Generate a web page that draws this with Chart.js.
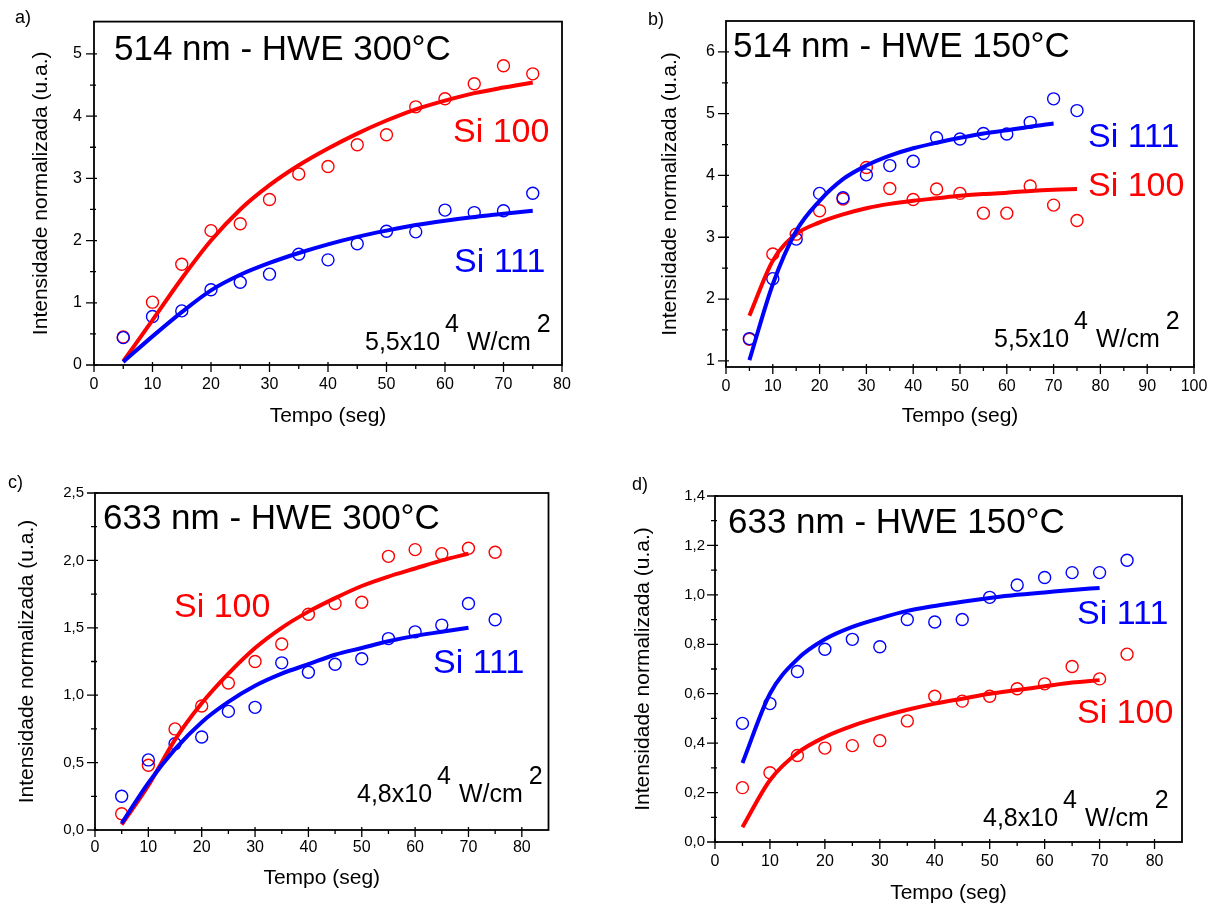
<!DOCTYPE html>
<html>
<head>
<meta charset="utf-8">
<script src="https://cdn.jsdelivr.net/npm/chart.js@4.4.1/dist/chart.umd.min.js"></script>
<style>
  body { margin: 0; background: #fff; width: 1218px; height: 906px; position: relative; overflow: hidden; }
  canvas { position: absolute; }
</style>
</head>
<body>
<canvas id="painelA" width="610" height="450" style="left:0;top:0"></canvas>
<canvas id="painelB" width="608" height="450" style="left:610px;top:0"></canvas>
<canvas id="painelC" width="610" height="456" style="left:0;top:450px"></canvas>
<canvas id="painelD" width="608" height="456" style="left:610px;top:450px"></canvas>
<script>
// tempos de medida (s)
const tempo = [5, 10, 15, 20, 25, 30, 35, 40, 45, 50, 55, 60, 65, 70, 75];
const tempoAjuste70 = [5, 10, 15, 20, 25, 30, 35, 40, 45, 50, 55, 60, 65, 70];

// a) 514 nm - HWE 300°C
const aSi100 = [0.45, 1.01, 1.62, 2.16, 2.27, 2.66, 3.07, 3.19, 3.54, 3.70, 4.15, 4.28, 4.52, 4.81, 4.68];
const aSi111 = [0.44, 0.78, 0.87, 1.21, 1.33, 1.46, 1.78, 1.69, 1.95, 2.15, 2.14, 2.49, 2.45, 2.48, 2.76];
const aAjuste100 = [0.06, 0.72, 1.39, 2.00, 2.50, 2.89, 3.21, 3.48, 3.72, 3.93, 4.11, 4.25, 4.37, 4.46, 4.54];
const aAjuste111 = [0.05, 0.46, 0.85, 1.20, 1.45, 1.64, 1.80, 1.94, 2.06, 2.16, 2.25, 2.32, 2.38, 2.43, 2.48];

// b) 514 nm - HWE 150°C
const bSi100 = [1.35, 2.73, 3.05, 3.43, 3.62, 4.13, 3.79, 3.61, 3.78, 3.71, 3.39, 3.39, 3.83, 3.52, 3.27];
const bSi111 = [1.36, 2.33, 2.97, 3.71, 3.64, 4.01, 4.16, 4.23, 4.61, 4.59, 4.68, 4.67, 4.86, 5.24, 5.05];
const bAjuste100 = [1.73, 2.62, 3.05, 3.24, 3.37, 3.47, 3.54, 3.59, 3.63, 3.67, 3.70, 3.72, 3.75, 3.77, 3.78];
const bAjuste111 = [1.01, 2.24, 3.10, 3.59, 3.94, 4.16, 4.32, 4.44, 4.53, 4.61, 4.68, 4.73, 4.79, 4.84];

// c) 633 nm - HWE 300°C
const cSi100 = [0.12, 0.48, 0.75, 0.92, 1.09, 1.25, 1.38, 1.60, 1.68, 1.69, 2.03, 2.08, 2.05, 2.09, 2.06];
const cSi111 = [0.25, 0.52, 0.64, 0.69, 0.88, 0.91, 1.24, 1.17, 1.23, 1.27, 1.42, 1.47, 1.52, 1.68, 1.56];
const cAjuste100 = [0.04, 0.33, 0.67, 0.94, 1.16, 1.35, 1.50, 1.62, 1.72, 1.81, 1.88, 1.94, 2.00, 2.05];
const cAjuste111 = [0.05, 0.35, 0.60, 0.80, 0.95, 1.07, 1.16, 1.23, 1.30, 1.35, 1.40, 1.44, 1.47, 1.50];

// d) 633 nm - HWE 150°C
const dSi100 = [0.22, 0.28, 0.35, 0.38, 0.39, 0.41, 0.49, 0.59, 0.57, 0.59, 0.62, 0.64, 0.71, 0.66, 0.76];
const dSi111 = [0.48, 0.56, 0.69, 0.78, 0.82, 0.79, 0.90, 0.89, 0.90, 0.99, 1.04, 1.07, 1.09, 1.09, 1.14];
const dAjuste100 = [0.06, 0.25, 0.36, 0.425, 0.47, 0.505, 0.535, 0.56, 0.58, 0.60, 0.615, 0.63, 0.645, 0.655];
const dAjuste111 = [0.32, 0.60, 0.74, 0.82, 0.87, 0.905, 0.935, 0.955, 0.972, 0.987, 1.0, 1.01, 1.02, 1.028];

// marcas dos eixos
const ticksX80 = [0, 10, 20, 30, 40, 50, 60, 70, 80];
const ticksX100 = [0, 10, 20, 30, 40, 50, 60, 70, 80, 90, 100];
const ticksYa = [0, 1, 2, 3, 4, 5];
const ticksYb = [1, 2, 3, 4, 5, 6];
const ticksYc = [0, 0.5, 1, 1.5, 2, 2.5];
const ticksYd = [0, 0.2, 0.4, 0.6, 0.8, 1.0, 1.2, 1.4];

const VERMELHO = '#ff0000';
const AZUL = '#0000ff';
const FONTE = '"Liberation Sans", Arial, sans-serif';

const virgula = v => v.toFixed(1).replace('.', ',');

// moldura e tracinhos (maiores e menores) dos eixos
const molduraPlugin = {
  id: 'moldura',
  afterDraw(chart) {
    const { ctx, chartArea: a, scales: { x, y } } = chart;
    ctx.save();
    ctx.strokeStyle = '#000';
    ctx.lineWidth = 1.8;
    ctx.strokeRect(a.left, a.top, a.right - a.left, a.bottom - a.top);
    ctx.lineWidth = 1.3;
    ctx.beginPath();
    const xs = x.ticks.map(t => t.value);
    xs.forEach((v, i) => {
      const px = x.getPixelForValue(v);
      ctx.moveTo(px, a.bottom - 3); ctx.lineTo(px, a.bottom + 7);
      if (i < xs.length - 1) {
        const pm = x.getPixelForValue((v + xs[i + 1]) / 2);
        ctx.moveTo(pm, a.bottom); ctx.lineTo(pm, a.bottom + 4);
      }
    });
    const ys = y.ticks.map(t => t.value);
    ys.forEach((v, i) => {
      const py = y.getPixelForValue(v);
      ctx.moveTo(a.left - 8, py); ctx.lineTo(a.left + 3, py);
      if (i < ys.length - 1) {
        const pm = y.getPixelForValue((v + ys[i + 1]) / 2);
        ctx.moveTo(a.left - 4, pm); ctx.lineTo(a.left + 2, pm);
      }
    });
    ctx.stroke();
    ctx.restore();
  }
};

// letra do painel, título, nomes das séries e densidade de potência
const textosPlugin = {
  id: 'textos',
  afterDraw(chart, args, o) {
    const ctx = chart.ctx;
    ctx.save();
    ctx.textBaseline = 'alphabetic';
    ctx.textAlign = 'left';
    ctx.fillStyle = '#000';
    ctx.font = '18px ' + FONTE;
    ctx.fillText(o.letra[0], o.letra[1], o.letra[2]);
    ctx.font = '35px ' + FONTE;
    ctx.fillText(o.titulo[0], o.titulo[1], o.titulo[2]);
    ctx.font = '34px ' + FONTE;
    o.series.forEach(s => {
      ctx.fillStyle = s[3];
      ctx.fillText(s[0], s[1], s[2]);
    });
    // 5,5x10^4 W/cm^2
    const p = o.potencia;
    ctx.fillStyle = '#000';
    ctx.font = '25px ' + FONTE;
    let px = p[1];
    ctx.fillText(p[0], px, p[2]);
    px += ctx.measureText(p[0]).width + 5;
    ctx.fillText('4', px, p[2] - 18);
    px += ctx.measureText('4').width + 8;
    ctx.fillText('W/cm', px, p[2]);
    px += ctx.measureText('W/cm').width + 6;
    ctx.fillText('2', px, p[2] - 18);
    ctx.restore();
  }
};

function circulos(label, xs, ys, cor, ordem) {
  return {
    label: label,
    data: ys.map((v, i) => ({ x: xs[i], y: v })),
    showLine: false,
    pointStyle: 'circle',
    pointRadius: 6,
    pointBorderWidth: 1.4,
    pointBorderColor: cor,
    pointBackgroundColor: 'rgba(0,0,0,0)',
    order: ordem
  };
}

function ajuste(label, xs, ys, cor, ordem) {
  return {
    label: label,
    data: ys.map((v, i) => ({ x: xs[i], y: v })),
    showLine: true,
    borderColor: cor,
    borderWidth: 4,
    pointRadius: 0,
    cubicInterpolationMode: 'monotone',
    order: ordem
  };
}

function painel(id, c) {
  const canvas = document.getElementById(id);
  const W = canvas.width, H = canvas.height, a = c.area;
  return new Chart(canvas, {
    type: 'scatter',
    data: {
      datasets: [
        ajuste('Si 111 ajuste', c.xAjuste111, c.ajuste111, AZUL, 0),
        ajuste('Si 100 ajuste', c.xAjuste100, c.ajuste100, VERMELHO, 1),
        circulos('Si 111', tempo, c.si111, AZUL, 2),
        circulos('Si 100', tempo, c.si100, VERMELHO, 3)
      ]
    },
    plugins: [molduraPlugin, textosPlugin],
    options: {
      responsive: false,
      animation: false,
      layout: { padding: { left: 0, top: a.top, right: W - a.right, bottom: 0 } },
      plugins: {
        legend: { display: false },
        tooltip: { enabled: false },
        textos: c.textos
      },
      scales: {
        x: {
          type: 'linear',
          min: 0,
          max: c.xMax,
          afterBuildTicks: s => { s.ticks = c.ticksX.map(v => ({ value: v })); },
          afterFit: s => { s.height = H - a.bottom; },
          grid: { display: false, drawTicks: false },
          border: { display: false },
          ticks: { color: '#000', padding: c.padX, maxRotation: 0, font: { family: FONTE, size: 16 } },
          title: { display: true, text: 'Tempo (seg)', color: '#000', font: { family: FONTE, size: 21 }, padding: { top: 0, bottom: c.tituloX } }
        },
        y: {
          type: 'linear',
          min: c.yMin,
          max: c.yMax,
          afterBuildTicks: s => { s.ticks = c.ticksY.map(v => ({ value: v })); },
          afterFit: s => { s.width = a.left; },
          grid: { display: false, drawTicks: false },
          border: { display: false },
          ticks: { color: '#000', padding: c.padY, font: { family: FONTE, size: c.fonteY }, callback: c.rotuloY },
          title: { display: true, text: 'Intensidade normalizada (u.a.)', color: '#000', font: { family: FONTE, size: 21 }, padding: { top: c.tituloY, bottom: 0 } }
        }
      }
    }
  });
}

painel('painelA', {
  area: { left: 94, top: 18, right: 562, bottom: 365 },
  xMax: 80, yMin: 0, yMax: 5.52, ticksX: ticksX80, ticksY: ticksYa,
  rotuloY: v => String(v), fonteY: 16, padX: 10, padY: 12, tituloX: 21, tituloY: 29,
  si100: aSi100, si111: aSi111,
  xAjuste100: tempo, ajuste100: aAjuste100, xAjuste111: tempo, ajuste111: aAjuste111,
  textos: {
    letra: ['a)', 15, 23],
    titulo: ['514 nm - HWE 300°C', 114, 60],
    series: [['Si 100', 453, 142, VERMELHO], ['Si 111', 454, 272, AZUL]],
    potencia: ['5,5x10', 365, 350]
  }
});

painel('painelB', {
  area: { left: 116, top: 21, right: 584, bottom: 367 },
  xMax: 100, yMin: 0.9, yMax: 6.5, ticksX: ticksX100, ticksY: ticksYb,
  rotuloY: v => String(v), fonteY: 16, padX: 10, padY: 11, tituloX: 21, tituloY: 48,
  si100: bSi100, si111: bSi111,
  xAjuste100: tempo, ajuste100: bAjuste100, xAjuste111: tempoAjuste70, ajuste111: bAjuste111,
  textos: {
    letra: ['b)', 38, 25],
    titulo: ['514 nm - HWE 150°C', 123, 57],
    series: [['Si 111', 478, 147, AZUL], ['Si 100', 478, 196, VERMELHO]],
    potencia: ['5,5x10', 384, 347]
  }
});

painel('painelC', {
  area: { left: 95, top: 43, right: 548.5, bottom: 380 },
  xMax: 85, yMin: 0, yMax: 2.5, ticksX: ticksX80, ticksY: ticksYc,
  rotuloY: virgula, fonteY: 15, padX: 8, padY: 11, tituloX: 15, tituloY: 15,
  si100: cSi100, si111: cSi111,
  xAjuste100: tempoAjuste70, ajuste100: cAjuste100, xAjuste111: tempoAjuste70, ajuste111: cAjuste111,
  textos: {
    letra: ['c)', 8, 38],
    titulo: ['633 nm - HWE 300°C', 103, 79],
    series: [['Si 100', 174, 167, VERMELHO], ['Si 111', 433, 223, AZUL]],
    potencia: ['4,8x10', 357, 352]
  }
});

painel('painelD', {
  area: { left: 105, top: 46, right: 572, bottom: 392 },
  xMax: 85, yMin: 0, yMax: 1.4, ticksX: ticksX80, ticksY: ticksYd,
  rotuloY: virgula, fonteY: 15, padX: 10, padY: 10, tituloX: 0.5, tituloY: 21,
  si100: dSi100, si111: dSi111,
  xAjuste100: tempoAjuste70, ajuste100: dAjuste100, xAjuste111: tempoAjuste70, ajuste111: dAjuste111,
  textos: {
    letra: ['d)', 22, 40],
    titulo: ['633 nm - HWE 150°C', 118, 83],
    series: [['Si 111', 467, 174, AZUL], ['Si 100', 467, 273, VERMELHO]],
    potencia: ['4,8x10', 373, 376]
  }
});
</script>
</body>
</html>
